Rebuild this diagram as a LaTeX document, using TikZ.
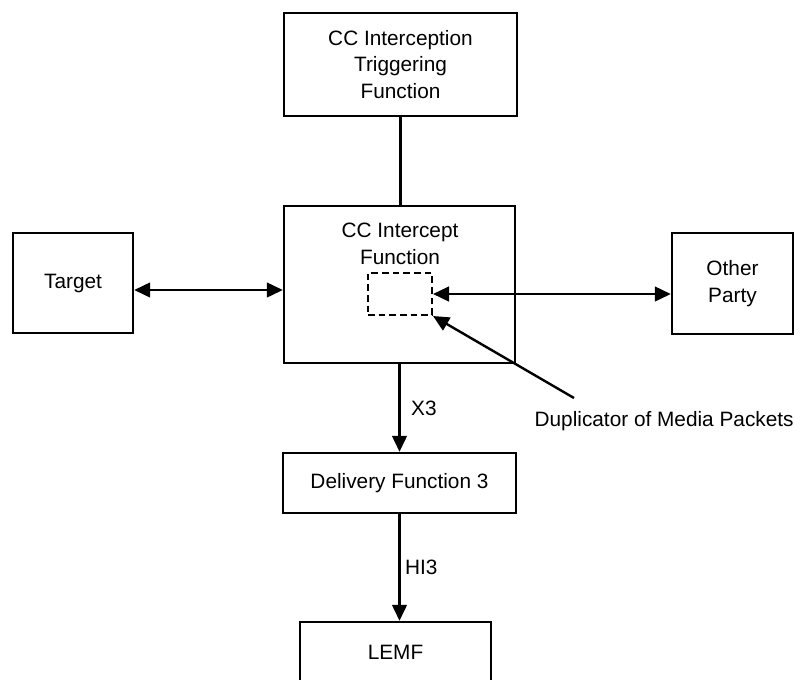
\documentclass[tikz,border=0pt]{standalone}
\usepackage{fontspec}
\setmainfont{Liberation Sans}
\usetikzlibrary{arrows.meta}

\begin{document}
\begin{tikzpicture}[x=0.75pt, y=-0.75pt, line width=1.8pt,
  every node/.style={font=\fontsize{15.6}{20}\selectfont, align=center},
  blk/.style={draw, line width=1.8pt, inner sep=0pt},
  tip/.style={-{Triangle[length=12pt,width=11pt]}},
  both/.style={{Triangle[length=12pt,width=11pt]}-{Triangle[length=12pt,width=11pt]}}]

\useasboundingbox (0,0) rectangle (800,679);

% the intercept column: trigger, intercept, delivery, LEMF
\node[blk, minimum width=174.75pt, minimum height=77.25pt] (trig) at (400.5,64.5) {CC Interception\\Triggering\\Function};
\node[blk, minimum width=173.25pt, minimum height=117.75pt] (icf) at (399.5,284.5) {};
\node (icflbl) at (400,244) {CC Intercept\\Function};
\node[blk, dashed, line width=1.5pt, dash pattern=on 5pt off 3pt, minimum width=48pt, minimum height=31.5pt] (dup) at (400,294) {};
\node[blk, minimum width=174.75pt, minimum height=45pt] (df3) at (399.5,483) {Delivery Function 3};
\node[blk, minimum width=143.25pt, minimum height=45pt] (lemf) at (395.5,652) {LEMF};

% the two ends of the call
\node[blk, minimum width=90pt, minimum height=75pt] (target) at (73,283) {Target};
\node[blk, minimum width=90.75pt, minimum height=75.75pt] (other) at (732.5,283.5) {Other\\Party};

% callout for the duplicator
\node[anchor=west] (duplbl) at (529,421) {Duplicator of Media Packets};
\coordinate (dupfoot) at (574,398);

\draw (trig.south) -- (trig.south |- icf.north);
\path (target.east) ++(0,7) coordinate (tlink);
\draw[both] (tlink) -- (tlink -| icf.west);
\draw[both] (dup.east) -- (dup.east -| other.west);
\draw[tip] (dupfoot) -- (dup.south east);
\draw[tip] (icf.south) -- node[right, xshift=4.5pt] {X3} (df3.north);
\draw[tip] (df3.south) -- node[right] {HI3} (df3.south |- lemf.north);

\end{tikzpicture}
\end{document}
